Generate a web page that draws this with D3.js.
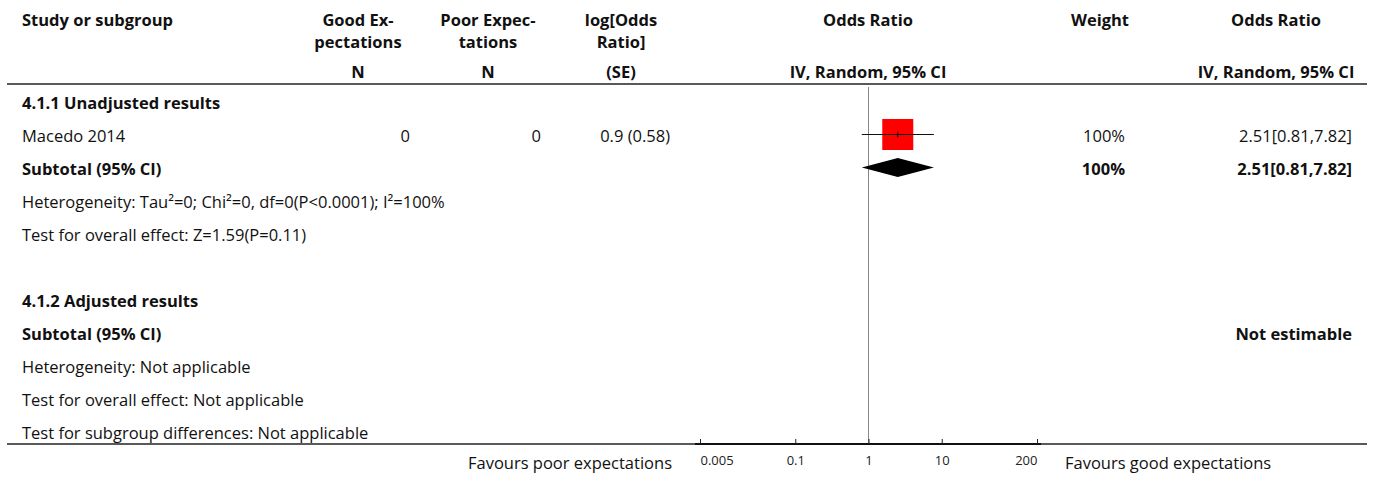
<!DOCTYPE html>
<html>
<head>
<meta charset="utf-8">
<script src="https://cdn.jsdelivr.net/npm/d3@7"></script>
<style>
  body { margin: 0; background: #fff; }
  svg { display: block; font-family: "Source Sans Pro", "Open Sans", sans-serif; }
</style>
</head>
<body>
<svg id="forest" width="1375" height="478"></svg>
<script>
// --- data ---
const studyNames = ["Macedo 2014"];
const goodN = [0];
const poorN = [0];
const logOR = [0.9];
const seLogOR = [0.58];
const studyWeights = ["100%"];
const studyOR = [2.51];
const studyLo = [0.81];
const studyHi = [7.82];
const subtotalOR = [2.51, 0.81, 7.82];
const axisTicks = [0.005, 0.1, 1, 10, 200];
const favourLabels = ["Favours poor expectations", "Favours good expectations"];

const headerLines = [
  { col: "study", lines: ["Study or subgroup"], sub: "" },
  { col: "good", lines: ["Good Ex-", "pectations"], sub: "N" },
  { col: "poor", lines: ["Poor Expec-", "tations"], sub: "N" },
  { col: "log", lines: ["log[Odds", "Ratio]"], sub: "(SE)" },
  { col: "plot", lines: ["Odds Ratio"], sub: "IV, Random, 95% CI" },
  { col: "weight", lines: ["Weight"], sub: "" },
  { col: "or", lines: ["Odds Ratio"], sub: "IV, Random, 95% CI" }
];

const svg = d3.select("#forest");
const fmt2 = d3.format(".2f");
const ciText = (o, l, h) => `${fmt2(o)}[${fmt2(l)},${fmt2(h)}]`;
const FS = 16.5;

// column anchors
const colX = { study: 22, good: 358, poor: 488, log: 621, plot: 868, weight: 1100, or: 1276 };
const valX = { good: 410, poor: 541, log: 670, weight: 1125, or: 1352 };

const x = d3.scaleLog().domain([0.005, 200]).range([700, 1037]);

// rows
const rowY = i => 109 + i * 33;
const rows = [
  { label: "4.1.1 Unadjusted results", bold: true },
  { label: studyNames[0], study: 0 },
  { label: "Subtotal (95% CI)", bold: true, subtotal: subtotalOR, weight: "100%" },
  { label: "Heterogeneity: Tau²=0; Chi²=0, df=0(P<0.0001); I²=100%" },
  { label: "Test for overall effect: Z=1.59(P=0.11)" },
  { label: "" },
  { label: "4.1.2 Adjusted results", bold: true },
  { label: "Subtotal (95% CI)", bold: true, note: "Not estimable" },
  { label: "Heterogeneity: Not applicable" },
  { label: "Test for overall effect: Not applicable" },
  { label: "Test for subgroup differences: Not applicable" }
];

const txt = (sel, px, py, s, opts = {}) => sel.append("text")
  .attr("x", px).attr("y", py)
  .attr("text-anchor", opts.anchor || "start")
  .attr("font-size", opts.size || FS)
  .attr("font-weight", opts.bold ? 700 : 400)
  .attr("fill", "#111")
  .text(s);

// header
const head = svg.append("g");
headerLines.forEach(h => {
  const anchor = h.col === "study" ? "start" : "middle";
  h.lines.forEach((l, k) => txt(head, colX[h.col], 26 + k * 22, l, { anchor, bold: true }));
  if (h.sub) txt(head, colX[h.col], 78, h.sub, { anchor, bold: true });
});
svg.append("line").attr("x1", 7).attr("x2", 1367).attr("y1", 84).attr("y2", 84)
  .attr("stroke", "#222").attr("stroke-width", 1.5);

// null line
svg.append("line").attr("x1", x(1)).attr("x2", x(1)).attr("y1", 87).attr("y2", 444)
  .attr("stroke", "#888").attr("stroke-width", 1);

// body rows
const body = svg.append("g");
rows.forEach((r, i) => {
  const y = rowY(i);
  if (r.label) txt(body, colX.study, y, r.label, { bold: r.bold });
  if (r.study !== undefined) {
    const s = r.study;
    txt(body, valX.good, y, goodN[s], { anchor: "end" });
    txt(body, valX.poor, y, poorN[s], { anchor: "end" });
    txt(body, valX.log, y, `${logOR[s]} (${seLogOR[s]})`, { anchor: "end" });
    txt(body, valX.weight, y, studyWeights[s], { anchor: "end" });
    txt(body, valX.or, y, ciText(studyOR[s], studyLo[s], studyHi[s]), { anchor: "end" });
    const cy = y - 7.5;
    const sz = 31;
    body.append("rect")
      .attr("x", x(studyOR[s]) - sz / 2).attr("y", cy - sz / 2)
      .attr("width", sz).attr("height", sz).attr("fill", "#ff0000");
    body.append("line")
      .attr("x1", x(studyLo[s])).attr("x2", x(studyHi[s])).attr("y1", cy).attr("y2", cy)
      .attr("stroke", "#111").attr("stroke-width", 1);
    body.append("line")
      .attr("x1", x(studyOR[s])).attr("x2", x(studyOR[s])).attr("y1", cy - 3).attr("y2", cy + 3)
      .attr("stroke", "#111").attr("stroke-width", 1);
  }
  if (r.subtotal) {
    const [o, l, h] = r.subtotal;
    txt(body, valX.weight, y, r.weight, { anchor: "end", bold: true });
    txt(body, valX.or, y, ciText(o, l, h), { anchor: "end", bold: true });
    const cy = y - 7.5;
    body.append("path")
      .attr("d", `M${x(l)},${cy}L${x(o)},${cy - 9.5}L${x(h)},${cy}L${x(o)},${cy + 9.5}Z`)
      .attr("fill", "#000");
  }
  if (r.note) txt(body, valX.or, y, r.note, { anchor: "end", bold: true });
});

// bottom rule and axis
svg.append("line").attr("x1", 7).attr("x2", 1367).attr("y1", 444).attr("y2", 444)
  .attr("stroke", "#222").attr("stroke-width", 1.5);
const ax = svg.append("g").attr("transform", "translate(0,444)")
  .call(d3.axisTop(x).tickValues(axisTicks).tickSize(5).tickFormat(d => String(d)));
ax.attr("font-family", "'Open Sans', sans-serif").attr("font-size", 13);
ax.select(".domain").attr("d", `M${x.range()[0] - 5},0H${x.range()[1] + 4}`)
  .attr("stroke", "#111").attr("stroke-width", 2);
ax.selectAll(".tick line").attr("stroke", "#222");
const last = axisTicks.length - 1;
ax.selectAll(".tick text").attr("y", 21).attr("dy", 0).attr("fill", "#222")
  .attr("text-anchor", (d, i) => i === 0 ? "start" : i === last ? "end" : "middle");

txt(svg, 672, 469, favourLabels[0], { anchor: "end" });
txt(svg, 1065, 469, favourLabels[1]);
</script>
</body>
</html>
